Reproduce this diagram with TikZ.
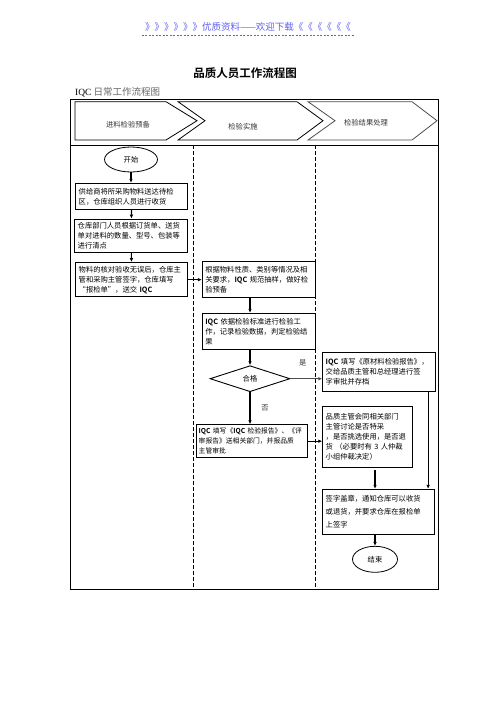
\documentclass[tikz,border=0pt]{standalone}
\usepackage{fontspec}
\setmainfont{Noto Sans CJK SC}[BoldFont={Noto Sans CJK SC Bold}]
\newfontfamily\latinserif{Liberation Serif}
\usetikzlibrary{shapes.geometric,arrows.meta}
\definecolor{linkblue}{RGB}{95,95,240}
\begin{document}
\begin{tikzpicture}[x=1pt,y=-1pt,>={Latex[length=4pt,width=3.6pt]},
  box/.style={draw,line width=0.9pt,align=left,inner xsep=3pt,font=\fontsize{7.3}{10}\selectfont},
  term/.style={draw,ellipse,line width=0.8pt,inner sep=0pt,font=\fontsize{7.3}{9}\selectfont},
  lane/.style={line width=0.8pt,dash pattern=on 4pt off 2pt},
  flow/.style={->,line width=1.1pt},
  phase/.style={line width=0.8pt},
  tag/.style={font=\fontsize{7.3}{9}\selectfont,text=black!80}]
\useasboundingbox (0,0) rectangle (496,702);
\node[text=linkblue,font=\fontsize{9.5}{10}\selectfont] (dl) at (248,26.5) {》》》》》》优质资料——欢迎下载《《《《《《};
\draw[linkblue,line width=0.6pt,dash pattern=on 2pt off 1.5pt] ([yshift=-1pt]dl.south west) -- ([yshift=-1pt]dl.south east);
\node[font=\fontsize{11.5}{12}\selectfont\bfseries] (title) at (245,73.5) {品质人员工作流程图};
\node[anchor=west,inner sep=0pt,font=\fontsize{9.5}{10}\selectfont] (sub) at (75,92.7) {{\latinserif IQC} \textcolor{black!60}{日常工作流程图}};
\draw[line width=0.9pt] (70.7,99) rectangle (438,589.3);
\draw[line width=0.9pt] (70.7,145) -- (438,145);
\draw[lane] (193.3,145) -- (193.3,589.3);
\draw[lane] (315.7,145) -- (315.7,589.3);
\draw[phase] (75,101.7) -- (166,101.7) -- (197,120.7) -- (166,140) -- (75,140) -- cycle;
\draw[phase] (178,101.7) -- (297,101.7) -- (323,120.7) -- (297,140) -- (178,140) -- (205,120.7) -- cycle;
\draw[phase,draw=black!70] (308,101.7) -- (412,101.7) -- (437,120.7) -- (412,140) -- (308,140) -- (335,120.7) -- cycle;
\node[tag] (h1) at (128,125) {进料检验预备};
\node[tag] (h2) at (243,127) {检验实施};
\node[tag] (h3) at (366,123) {检验结果处理};
\node[term,minimum width=53pt,minimum height=25pt] (start) at (131,159.5) {开始};
\node[box,text width=106pt,minimum height=26pt] (b1) at (131.7,196.3) {供给商将所采购物料送达待检\\区，仓库组织人员进行收货};
\node[box,text width=107pt,minimum height=33pt] (b2) at (131.2,235.8) {仓库部门人员根据订货单、送货\\单对进料的数量、型号、包装等\\进行清点};
\node[box,text width=106pt,minimum height=32.7pt] (b3) at (131.7,279.7) {物料的核对验收无误后，仓库主\\管和采购主管签字，仓库填写\\“报检单”，送交 \textbf{IQC}};
\node[box,text width=107.4pt,minimum height=35.6pt] (b4) at (259,279.5) {根据物料性质、类别等情况及相\\关要求，\textbf{IQC} 规范抽样，做好检\\验预备};
\node[box,text width=107.4pt,minimum height=36pt] (b5) at (259,331.3) {\textbf{IQC} 依据检验标准进行检验工\\作，记录检验数据，判定检验结\\果};
\node[draw,diamond,line width=0.9pt,minimum width=80pt,minimum height=26pt,inner sep=0pt,font=\fontsize{7.3}{9}\selectfont] (ok) at (250,378.7) {合格};
\node[box,text width=107pt,minimum height=38.7pt] (b6) at (379.2,371.7) {\textbf{IQC} 填写《原材料检验报告》，\\交给品质主管和总经理进行签\\字审批并存档};
\node[box,text width=106pt,minimum height=32.3pt,inner xsep=2.5pt,font=\fontsize{6.8}{10}\selectfont] (b7) at (251.7,441.2) {\textbf{IQC}~填写《\textbf{IQC}~检验报告》、《评\\审报告》送相关部门，并报品质\\主管审批};
\node[box,text width=83.6pt,minimum height=60.6pt] (b8) at (367.5,437) {品质主管会同相关部门\\主管讨论是否特采\\，是否挑选使用，是否退\\货 （必要时有 3 人仲裁\\小组仲裁决定）};
\node[box,text width=105.6pt,minimum height=45pt,font=\fontsize{7.3}{13}\selectfont] (b9) at (378.5,511.8) {签字盖章，通知仓库可以收货\\或退货，并要求仓库在报检单\\上签字};
\node[term,minimum width=45pt,minimum height=26pt] (stop) at (375,559.3) {结束};
\node[tag] (yes) at (302.7,362.7) {是};
\node[tag] (no) at (265,407.7) {否};
\coordinate (c6) at ([xshift=-8pt]b6.south east);
\draw[flow] (start.south) -- (start.south |- b1.north);
\draw[flow] (b1) -- (b2);
\draw[flow] (b2) -- (b3);
\draw[flow] (b3.east) -- (b4.west |- b3.east);
\draw[flow] (b4.south -| ok.north) -- (b5.north -| ok.north);
\draw[flow] (b5.south -| ok.north) -- (ok.north);
\draw[flow,draw=black!70,line width=1.4pt] (ok.east) -- (b6.west |- ok.east);
\draw[flow] (ok.south) -- (b7.north -| ok.south);
\draw[flow] (b7.east) -- (b8.west |- b7.east);
\draw[flow] ([yshift=-2pt]b8.south -| stop.north) -- (b9.north -| stop.north);
\draw[flow] (c6) -- (c6 |- b9.north);
\draw[flow] (b9.south -| stop.north) -- (stop.north);
\end{tikzpicture}
\end{document}
